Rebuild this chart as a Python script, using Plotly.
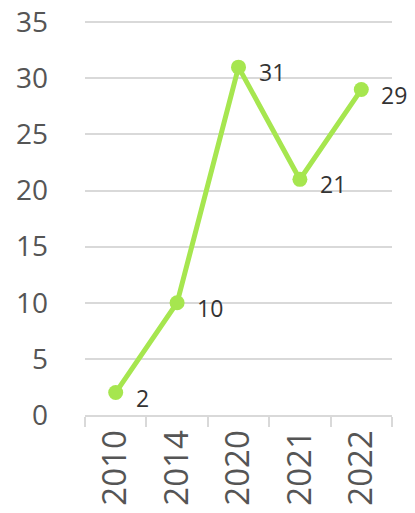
import plotly.graph_objects as go

years = ["2010", "2014", "2020", "2021", "2022"]
values = [2, 10, 31, 21, 29]
y_ticks = [0, 5, 10, 15, 20, 25, 30, 35]

LINE = "#a6e64f"
FONT = "Open Sans"

fig = go.Figure(go.Scatter(
    x=years, y=values, mode="lines+markers",
    line=dict(color=LINE, width=5),
    marker=dict(color=LINE, size=15),
    cliponaxis=False, hoverinfo="skip",
))

for i, v in enumerate(values):
    fig.add_annotation(
        x=i, y=v, text=str(v), showarrow=False,
        xanchor="left", yanchor="middle", xshift=18, yshift=-5,
        font=dict(family=FONT, size=23, color="#333333"),
    )

fig.update_layout(
    width=415, height=513,
    margin=dict(l=85, r=23, t=20, b=98, autoexpand=False),
    plot_bgcolor="white", paper_bgcolor="white",
    showlegend=False,
    font=dict(family=FONT, color="#555555"),
)
fig.update_xaxes(
    type="category", tickangle=-90, automargin=False,
    range=[-0.5, len(years) - 0.5],
    tickfont=dict(family=FONT, size=33, color="#555555"),
    showgrid=False, showline=True, linecolor="#d9d9d9", linewidth=2,
    ticks="outside", tickson="boundaries", ticklen=10, tickcolor="#d9d9d9", tickwidth=2,
    ticklabeloverflow="allow",
)
fig.update_yaxes(
    range=[0, 35.2], tickvals=y_ticks, automargin=False,
    tickfont=dict(family=FONT, size=28, color="#555555"),
    showgrid=True, gridcolor="#d9d9d9", gridwidth=1.5,
    zeroline=False, showline=False, ticklabelstandoff=36,
    ticklabeloverflow="allow",
)

fig.write_html(
    "out.html",
    config={"displayModeBar": False},
    post_script="document.body.style.margin='0';document.body.style.padding='0';",
)
